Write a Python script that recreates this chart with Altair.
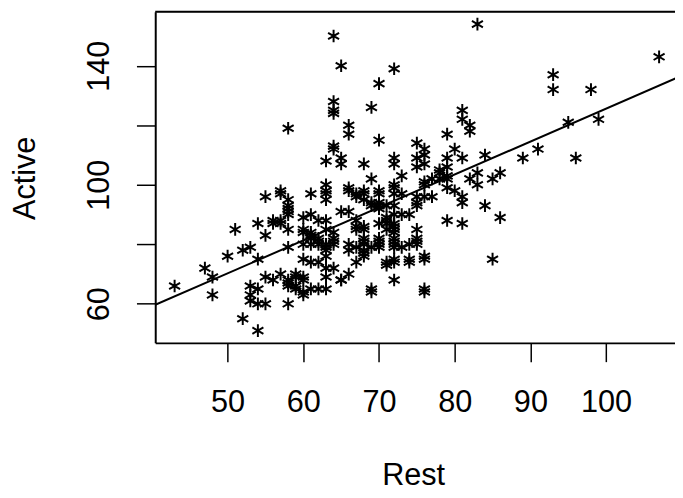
import altair as alt
import pandas as pd

# Rest vs Active pulse rates
REST = [
    83, 64, 65, 72, 70, 64, 64, 64, 69, 66, 66, 70, 58, 81, 81, 82, 82, 79, 64, 64,
    63, 65, 65, 68, 72, 72, 75, 76, 76, 75, 75, 76, 80, 79, 81, 84, 78, 79, 78, 79,
    78, 77, 69, 73, 82, 83, 83, 85, 86, 107, 93, 93, 98, 95, 99, 91, 89, 96, 84, 86,
    85,
    79, 79, 80, 81, 81, 76, 76, 72, 70, 72, 73, 75, 76, 77, 70, 69, 71, 72, 75, 75,
    70, 72, 63, 63, 63, 63, 66, 67, 68, 67, 68, 69, 66, 68, 57, 58, 58, 58, 58, 58,
    61, 55, 57, 79, 81,
    56, 57, 58, 60, 61, 62, 63, 60, 60, 61, 61, 62, 62, 63, 63, 63, 64, 64, 64, 65,
    66, 67, 67, 67, 68, 68, 68, 68, 66, 66, 67, 68, 70, 70, 71, 71, 71, 72, 72, 72,
    72, 72, 72, 72, 73, 74, 70, 71, 75, 75, 72, 72, 73, 75, 75, 74, 70, 70, 70, 70,
    69, 68, 68, 68, 67, 66, 65, 64, 63, 63, 62, 61, 60, 71, 71, 74, 76, 76, 72, 72,
    74, 72, 69, 69, 76, 76, 54, 55, 56, 57, 58, 54, 61,
    60, 61, 62, 63, 64, 56, 57, 58, 58, 58, 59, 59, 59, 59, 60, 60, 60, 60, 61, 63,
    63, 62, 65, 58, 55, 55, 43, 47, 48, 48, 50, 51, 52, 53, 52, 54, 53, 53, 53, 54,
    54,
]
ACTIVE = [
    154, 150, 140, 139, 134, 128, 125, 124, 126, 120, 117, 115, 119, 125, 122, 120, 118, 117, 113, 112,
    108, 109, 107, 107, 109, 107, 114, 112, 110, 109, 106, 107, 112, 109, 109, 110, 105, 106, 104, 103,
    102, 102, 102, 103, 102, 104, 100, 102, 104, 143, 137, 132, 132, 121, 122, 112, 109, 109, 93, 89,
    75,
    102, 99, 98, 96, 94, 100, 101, 100, 98, 97, 97, 96, 96, 96, 94, 93, 93, 93, 94, 93,
    97, 99, 100, 98, 97, 95, 99, 97, 97, 96, 95, 94, 98, 98, 97, 95, 93, 92, 91, 90,
    97, 96, 98, 88, 87,
    88, 88, 85, 89, 90, 88, 88, 85, 84, 84, 82, 82, 80, 85, 79, 76, 84, 82, 80, 91,
    91, 88, 86, 85, 85, 82, 80, 77, 80, 78, 79, 86, 93, 92, 89, 88, 87, 90, 87, 86,
    85, 84, 82, 80, 90, 90, 87, 85, 85, 82, 81, 79, 79, 81, 80, 80, 82, 81, 80, 79,
    79, 81, 78, 76, 74, 70, 68, 81, 80, 78, 81, 80, 80, 74, 73, 74, 75, 76, 75, 74,
    75, 68, 65, 64, 65, 64, 87, 83, 87, 87, 79, 75, 83,
    75, 74, 74, 72, 72, 68, 70, 68, 67, 66, 70, 69, 66, 65, 69, 68, 64, 63, 65, 69,
    65, 65, 68, 60, 69, 60, 66, 72, 69, 63, 76, 85, 78, 79, 55, 51, 66, 63, 61, 65,
    60,
]

# Least-squares line: Active = INTERCEPT + SLOPE * Rest
INTERCEPT = 14.9
SLOPE = 1.107
FIT_REST = [40.44, 109.56]

X_TICKS = [50, 60, 70, 80, 90, 100]
Y_TICKS = [60, 80, 100, 120, 140]
X_DOMAIN = [40.44, 109.1]
Y_DOMAIN = [46.88, 158.12]

df = pd.DataFrame({"Rest": REST, "Active": ACTIVE})
fit_df = pd.DataFrame({"Rest": FIT_REST})

STAR = "M0,-1L0,1M-0.866,-0.5L0.866,0.5M-0.866,0.5L0.866,-0.5"
W, H = 526, 335
FONT = "Liberation Sans"

x_enc = alt.X(
    "Rest:Q",
    scale=alt.Scale(domain=X_DOMAIN, nice=False, zero=False),
    axis=alt.Axis(
        values=X_TICKS, title="Rest", grid=False,
        tickSize=19, tickWidth=1.5, tickColor="black",
        domainWidth=2, domainColor="black",
        labelFontSize=31, labelPadding=26, labelColor="black", labelFont=FONT,
        labelBaseline="top",
        titleFontSize=31, titleFontWeight="normal", titleColor="black", titleFont=FONT,
        titleX=261, titleY=143, titleBaseline="alphabetic", titleAlign="center",
    ),
)
y_enc = alt.Y(
    "Active:Q",
    scale=alt.Scale(domain=Y_DOMAIN, nice=False, zero=False),
    axis=alt.Axis(
        values=Y_TICKS, title="Active", grid=False,
        tickSize=19, tickWidth=1.5, tickColor="black",
        domainWidth=2, domainColor="black",
        labelFontSize=31, labelPadding=28, labelColor="black", labelFont=FONT,
        labelAngle=270, labelAlign="center", labelBaseline="alphabetic",
        labelExpr="datum.value % 40 == 0 ? '' : datum.label",
        titleFontSize=31, titleFontWeight="normal", titleColor="black", titleFont=FONT,
        titleAngle=270, titleX=-122, titleY=168, titleBaseline="alphabetic", titleAlign="center",
    ),
)

points = alt.Chart(df).mark_point(
    shape=STAR, size=165, filled=False, color="black", strokeWidth=2, opacity=1
).encode(x=x_enc, y=y_enc)

fit = alt.Chart(fit_df).transform_calculate(
    Active=f"{INTERCEPT} + {SLOPE} * datum.Rest"
).mark_line(color="black", strokeWidth=2, clip=True).encode(x=x_enc, y=y_enc)

top_border = alt.Chart(pd.DataFrame({"k": [0]})).mark_rule(
    color="black", strokeWidth=2
).encode(x=alt.value(0), x2=alt.value(W), y=alt.value(0))

chart = alt.layer(points, fit, top_border).properties(
    width=W, height=H,
    padding={"left": 149, "top": 1, "right": 0, "bottom": 146},
    autosize="none",
).configure_view(stroke=None).configure(font=FONT)

chart.save("out.html", embed_options={"renderer": "svg", "actions": False})
